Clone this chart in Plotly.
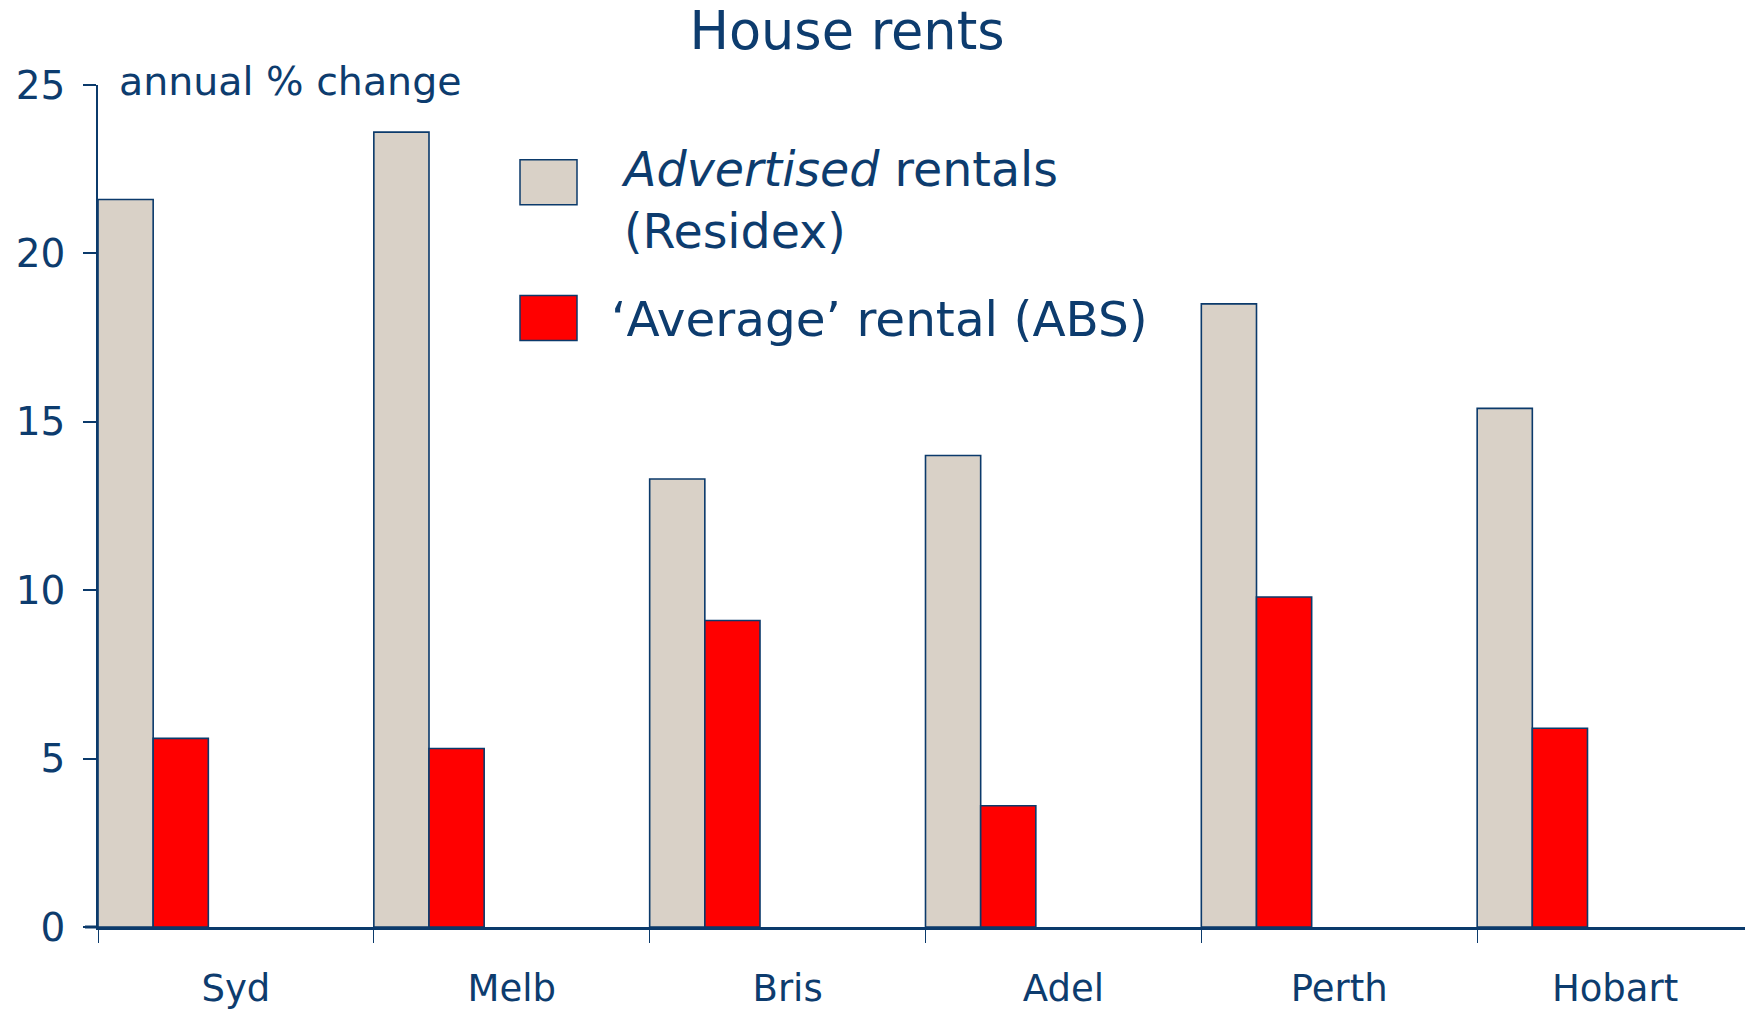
import plotly.graph_objects as go

cities = ["Syd", "Melb", "Bris", "Adel", "Perth", "Hobart"]
advertised = [21.6, 23.6, 13.3, 14.0, 18.5, 15.4]
average = [5.6, 5.3, 9.1, 3.6, 9.8, 5.9]
y_ticks = [0, 5, 10, 15, 20, 25]

NAVY = "#0b3a6b"
TEXT = "#0d3c6e"
GREY = "#d9d1c7"
RED = "#ff0000"
FONT = "DejaVu Sans"

OFF = 8  # default page body margin
W, H = 1753 - OFF, 1010 - OFF
ML, MR, MT, MB = 98 - OFF, 0, 85 - OFF, 81
PW = W - ML - MR
PH = H - MT - MB


def px2paper_x(px):
    # px in reference (screen) coordinates
    return (px - OFF - ML) / PW


def px2paper_y(py):
    return (H - MB - (py - OFF)) / PH


fig = go.Figure()
fig.add_bar(x=cities, y=advertised, offset=-0.5, width=0.2,
            marker=dict(color=GREY, line=dict(color=NAVY, width=1.6)),
            name="Advertised rentals (Residex)", showlegend=False)
fig.add_bar(x=cities, y=average, offset=-0.3, width=0.2,
            marker=dict(color=RED, line=dict(color=NAVY, width=1.6)),
            name="'Average' rental (ABS)", showlegend=False)

# legend boxes
fig.add_shape(type="rect", xref="paper", yref="paper",
              x0=px2paper_x(520), x1=px2paper_x(577),
              y0=px2paper_y(205), y1=px2paper_y(160),
              fillcolor=GREY, line=dict(color=NAVY, width=1.5))
fig.add_shape(type="rect", xref="paper", yref="paper",
              x0=px2paper_x(520), x1=px2paper_x(577),
              y0=px2paper_y(341), y1=px2paper_y(296),
              fillcolor=RED, line=dict(color=NAVY, width=1.5))

# baseline stub extending left of the y axis
fig.add_shape(type="line", xref="paper", yref="paper",
              x0=px2paper_x(85), x1=0, y0=0, y1=0,
              line=dict(color=NAVY, width=3))

fig.add_annotation(xref="paper", yref="paper",
                   x=px2paper_x(619), y=px2paper_y(201),
                   xanchor="left", yanchor="middle", align="left",
                   text="<i>Advertised</i> rentals<br>(Residex)",
                   showarrow=False, font=dict(family=FONT, size=47.5, color=TEXT))
fig.add_annotation(xref="paper", yref="paper",
                   x=px2paper_x(609), y=px2paper_y(320),
                   xanchor="left", yanchor="middle", align="left",
                   text="\u2018Average\u2019 rental (ABS)",
                   showarrow=False, font=dict(family=FONT, size=48.5, color=TEXT))

fig.add_annotation(xref="paper", yref="paper",
                   x=px2paper_x(117), y=px2paper_y(81),
                   xanchor="left", yanchor="middle",
                   text="annual % change", showarrow=False,
                   font=dict(family=FONT, size=39.5, color=TEXT))

fig.update_layout(
    width=W, height=H,
    margin=dict(l=ML, r=MR, t=MT, b=MB),
    paper_bgcolor="white", plot_bgcolor="white",
    barmode="overlay",
    title=dict(text="House rents", x=(847 - OFF) / W, xanchor="center",
               y=1 - (31 - OFF) / H, yanchor="middle", xref="container", yref="container",
               font=dict(family=FONT, size=52.5, color=TEXT)),
    font=dict(family=FONT, color=TEXT),
    xaxis=dict(type="category", range=[-0.5, 5.5], showline=True,
               linecolor=NAVY, linewidth=3, ticks="outside", tickson="boundaries",
               ticklen=13, tickwidth=1, tickcolor=NAVY, showgrid=False,
               tickfont=dict(family=FONT, size=37, color=TEXT),
               ticklabelstandoff=27),
    yaxis=dict(range=[0, 25], tickvals=y_ticks, showline=True, linecolor=NAVY,
               linewidth=1.5, ticks="outside", ticklen=13, tickwidth=1.5,
               tickcolor=NAVY, showgrid=False, zeroline=False,
               tickfont=dict(family=FONT, size=39, color=TEXT),
               ticklabelstandoff=10),
)

fig.write_html("out.html")
